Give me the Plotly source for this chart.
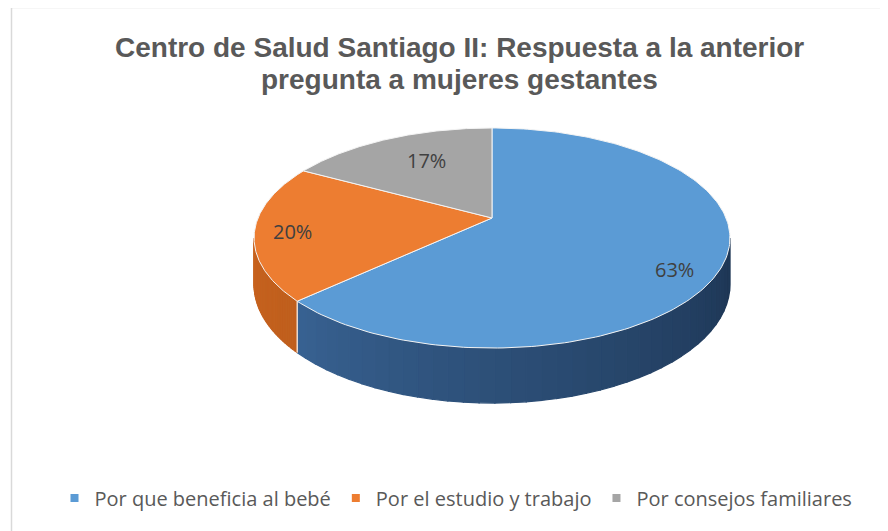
import numpy as np
import plotly.graph_objects as go

# ---- data ----
categories = ["Por que beneficia al bebé", "Por el estudio y trabajo", "Por consejos familiares"]
values = [63, 20, 17]
labels = ["63%", "20%", "17%"]
title_lines = ["Centro de Salud Santiago II: Respuesta a la anterior", "pregunta a mujeres gestantes"]

# ---- styles ----
top_colors = ["#5b9bd5", "#ed7d31", "#a5a5a5"]
wall_light = ["#4374ab", "#c9641f", "#8c8c8c"]
wall_dark = ["#1d3553", "#a9521a", "#6e6e6e"]
W, H = 888, 531
OFF = 8                    # page body margin
CX, CY = 492, 218          # projected pie centre (px)
A, B = 234, 106.4          # projection scales
K = 0.1818                 # perspective factor
DEPTH = 45                 # wall height

def proj(phi, drop=0.0):
    u, v = np.sin(phi), np.cos(phi)
    w = 1 + K * v
    return CX + A * u / w, CY - B * v / w + drop / w

def rgb(h):
    return np.array([int(h[j:j + 2], 16) for j in (1, 3, 5)])

fig = go.Figure()
total = sum(values)
starts = np.cumsum([0] + values[:-1]) / total * 2 * np.pi
ends = np.cumsum(values) / total * 2 * np.pi
vis0, vis1 = np.arccos(-K), 2 * np.pi - np.arccos(-K)

# walls (front visible part)
for i in range(len(values)):
    a0, a1 = max(starts[i], vis0), min(ends[i], vis1)
    if a1 <= a0:
        continue
    n = 40
    edges = np.linspace(a0, a1, n + 1)
    c1, c2 = rgb(wall_light[i]), rgb(wall_dark[i])
    for s in range(n):
        e0, e1 = edges[s], edges[s + 1]
        ph = np.linspace(e0, e1, 4)
        xt, yt = proj(ph)
        xb, yb = proj(ph[::-1], DEPTH)
        t = np.clip((vis1 - (e0 + e1) / 2) / (vis1 - vis0), 0, 1) ** 0.8
        col = "rgb(%d,%d,%d)" % tuple(c1 + (c2 - c1) * t)
        fig.add_trace(go.Scatter(
            x=np.concatenate([xt, xb, xt[:1]]), y=np.concatenate([yt, yb, yt[:1]]),
            fill="toself", mode="lines", line=dict(width=1.2, color=col),
            fillcolor=col, hoverinfo="skip", showlegend=False))
    for a in (starts[i], ends[i]):
        if vis0 < a < vis1:
            x0, y0 = proj(a)
            x1, y1 = proj(a, DEPTH)
            fig.add_trace(go.Scatter(x=[x0, x1], y=[y0, y1], mode="lines",
                                     line=dict(color="#f2f2f2", width=1.2),
                                     hoverinfo="skip", showlegend=False))

# top faces
for i in range(len(values)):
    ph = np.linspace(starts[i], ends[i], 200)
    xs, ys = proj(ph)
    fig.add_trace(go.Scatter(
        x=np.concatenate([[CX], xs, [CX]]), y=np.concatenate([[CY], ys, [CY]]),
        fill="toself", mode="lines", line=dict(color="#f4f4f4", width=1),
        fillcolor=top_colors[i], hoverinfo="skip", showlegend=False))

# data labels
lab_r = [0.80, 0.80, 0.72]
lab_dx = [0, -10, 12]
lab_dy = [16, 3, 2]
for i in range(len(values)):
    mid = (starts[i] + ends[i]) / 2
    u, v = np.sin(mid) * lab_r[i], np.cos(mid) * lab_r[i]
    w = 1 + K * v
    fig.add_annotation(x=CX + A * u / w + lab_dx[i], y=CY - B * v / w + lab_dy[i], text=labels[i],
                       showarrow=False, font=dict(family="Open Sans", size=20, color="#404040"))

# legend entries
for i, c in enumerate(categories):
    fig.add_trace(go.Scatter(x=[None], y=[None], mode="markers", name=c,
                             marker=dict(symbol="square", size=8, color=top_colors[i])))

for j, (line, yy) in enumerate(zip(title_lines, [47, 79])):
    fig.add_annotation(x=459, y=yy, text="<b>" + line + "</b>", showarrow=False,
                       font=dict(family="Liberation Sans, Arial", size=28, color="#595959"))

fig.add_shape(type="rect", x0=11.5, y0=7.5, x1=W + 20, y1=H + 20,
              line=dict(color="#d9d9d9", width=1.5), layer="below")

fig.update_layout(
    width=W - OFF, height=H - OFF, margin=dict(l=0, r=0, t=0, b=0),
    paper_bgcolor="white", plot_bgcolor="white",
    xaxis=dict(range=[OFF, W], visible=False, fixedrange=True),
    yaxis=dict(range=[H, OFF], visible=False, fixedrange=True),
    showlegend=True,
    legend=dict(orientation="h", x=(456 - OFF) / (W - OFF), y=(H - 498) / (H - OFF),
                yanchor="middle", xanchor="center",
                font=dict(family="Open Sans", size=20, color="#595959"),
                itemwidth=30, bgcolor="rgba(0,0,0,0)"),
)
fig.write_html("out.html")
